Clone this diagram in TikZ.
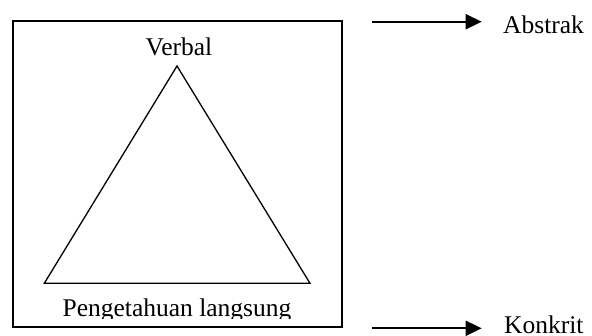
\documentclass[tikz,border=0pt]{standalone}
\usepackage{fontspec}
\setmainfont{Liberation Serif}
\usetikzlibrary{arrows.meta}
\tikzset{
  lbl/.style = {inner sep=0pt, font=\fontsize{25.5}{30}\selectfont},
  frame/.style = {draw, line width=1.8pt},
  tri/.style = {draw, line width=1.3pt, line join=miter},
  arr/.style = {line width=1.7pt, -{Triangle[length=16pt,width=15pt]}}
}

\begin{document}
\begin{tikzpicture}[x=1pt,y=-1pt]
\useasboundingbox (0,0) rectangle (592,335);
\coordinate (TL) at (12.7,21);
\coordinate (BR) at (341.7,327);
\draw[frame] (TL) rectangle (BR);
% triangle
\coordinate (V) at (177,66);
\coordinate (L) at (44.3,283.3);
\coordinate (R) at (310,283.3);
\draw[tri] (V)--(L)--(R)--cycle;
\node[lbl, anchor=base] (verbal) at (179,55.5) {Verbal};
\begin{scope}
  \clip (0,0) rectangle (592,318.5); % text cut at the bottom
  \node[lbl, anchor=base] (langsung) at (177,316.5) {Pengetahuan langsung};
\end{scope}
% right side
\node[lbl, anchor=base west] (abstrak) at (503,33) {Abstrak};
\node[lbl, anchor=base west] (konkrit) at (504,333.5) {Konkrit};
\coordinate (a0) at (371.7,21.7);
\coordinate (k0) at (371.7,328.3);
\draw[arr] (a0) -- ([xshift=-21.3pt]abstrak.west |- a0);
\draw[arr] (k0) -- ([xshift=-22.3pt]konkrit.west |- k0);
\end{tikzpicture}
\end{document}
